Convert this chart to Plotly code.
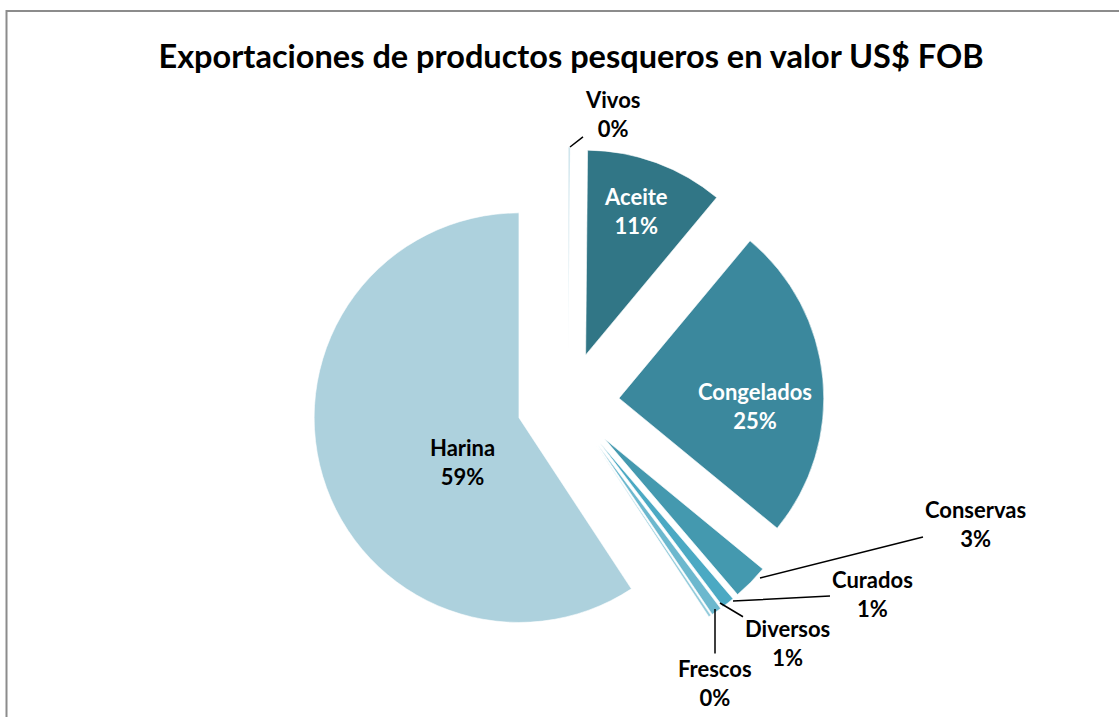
import plotly.graph_objects as go

# ---- data ----
categories = ["Vivos", "Aceite", "Congelados", "Conservas", "Curados", "Diversos", "Frescos", "Harina"]
values = [0.15, 10.9, 24.9, 2.8, 1.0, 0.8, 0.2, 59.25]
colors = ["#C3DFE8", "#317686", "#3B889D", "#4499AF", "#4BA9C3", "#6CB8CE", "#93CBDB", "#ADD1DD"]
pulls = [0.25, 0.25, 0.25, 0.25, 0.25, 0.25, 0.25, 0.25]
label_colors = ["black", "white", "white", "black", "black", "black", "black", "black"]

W, H = 1119, 717
FONT = "Lato"

total = sum(values)
pct = {c: round(v / total * 100) for c, v in zip(categories, values)}
lcol = dict(zip(categories, label_colors))

fig = go.Figure(go.Pie(
    labels=categories,
    values=values,
    sort=False,
    direction="clockwise",
    rotation=0,
    pull=pulls,
    marker=dict(colors=colors, line=dict(color="white", width=0.6)),
    textinfo="none",
    showlegend=False,
    hoverinfo="label+percent",
    domain=dict(x=[0.2788, 0.7364], y=[0.0809, 0.795]),
))

def px(x, y):
    return x / W, 1 - y / H

# labels placed on the slices: (category, text center px)
inside = [
    ("Aceite", (636, 211)),
    ("Congelados", (755, 406)),
    ("Harina", (462, 462)),
]
for cat, (tx, ty) in inside:
    xp, yp = px(tx, ty)
    fig.add_annotation(
        x=xp, y=yp, xref="paper", yref="paper", showarrow=False,
        text=f"<b>{cat}<br>{pct[cat]}%</b>",
        font=dict(family=FONT, size=22, color=lcol[cat]),
        align="center", xanchor="center", yanchor="middle",
    )

# outside labels with leader lines: (category, point px, text center px)
outside = [
    ("Vivos", (570, 147), (612, 114)),
    ("Conservas", (760, 578), (975, 524)),
    ("Curados", (733, 601), (872, 594)),
    ("Diversos", (720, 603), (787, 643)),
    ("Frescos", (715, 609), (715, 683)),
]
for cat, (x0, y0), (tx, ty) in outside:
    xp, yp = px(x0, y0)
    fig.add_annotation(
        x=xp, y=yp, xref="paper", yref="paper",
        ax=tx - x0, ay=ty - y0, axref="pixel", ayref="pixel",
        text=f"<b>{cat}<br>{pct[cat]}%</b>",
        showarrow=True, arrowhead=0, arrowwidth=1.5, arrowcolor="black",
        font=dict(family=FONT, size=22, color=lcol[cat]),
        align="center", standoff=0,
    )

# frame
fig.add_shape(type="rect", xref="paper", yref="paper",
              x0=6.5 / W, x1=1.05, y0=-0.05, y1=1 - 11 / H,
              line=dict(color="#8C8C8C", width=2), layer="below")

fig.update_layout(
    width=W, height=H,
    margin=dict(l=0, r=0, t=0, b=0),
    paper_bgcolor="white",
    title=dict(text="<b>Exportaciones de productos pesqueros en valor US$ FOB</b>",
               x=571 / W, xanchor="center", y=1 - 57 / H, yanchor="middle",
               font=dict(family=FONT, size=32.5, color="black")),
)

fig.write_html("out.html", config={"displayModeBar": False},
               post_script="document.body.style.margin='0';document.body.style.overflow='hidden';")
